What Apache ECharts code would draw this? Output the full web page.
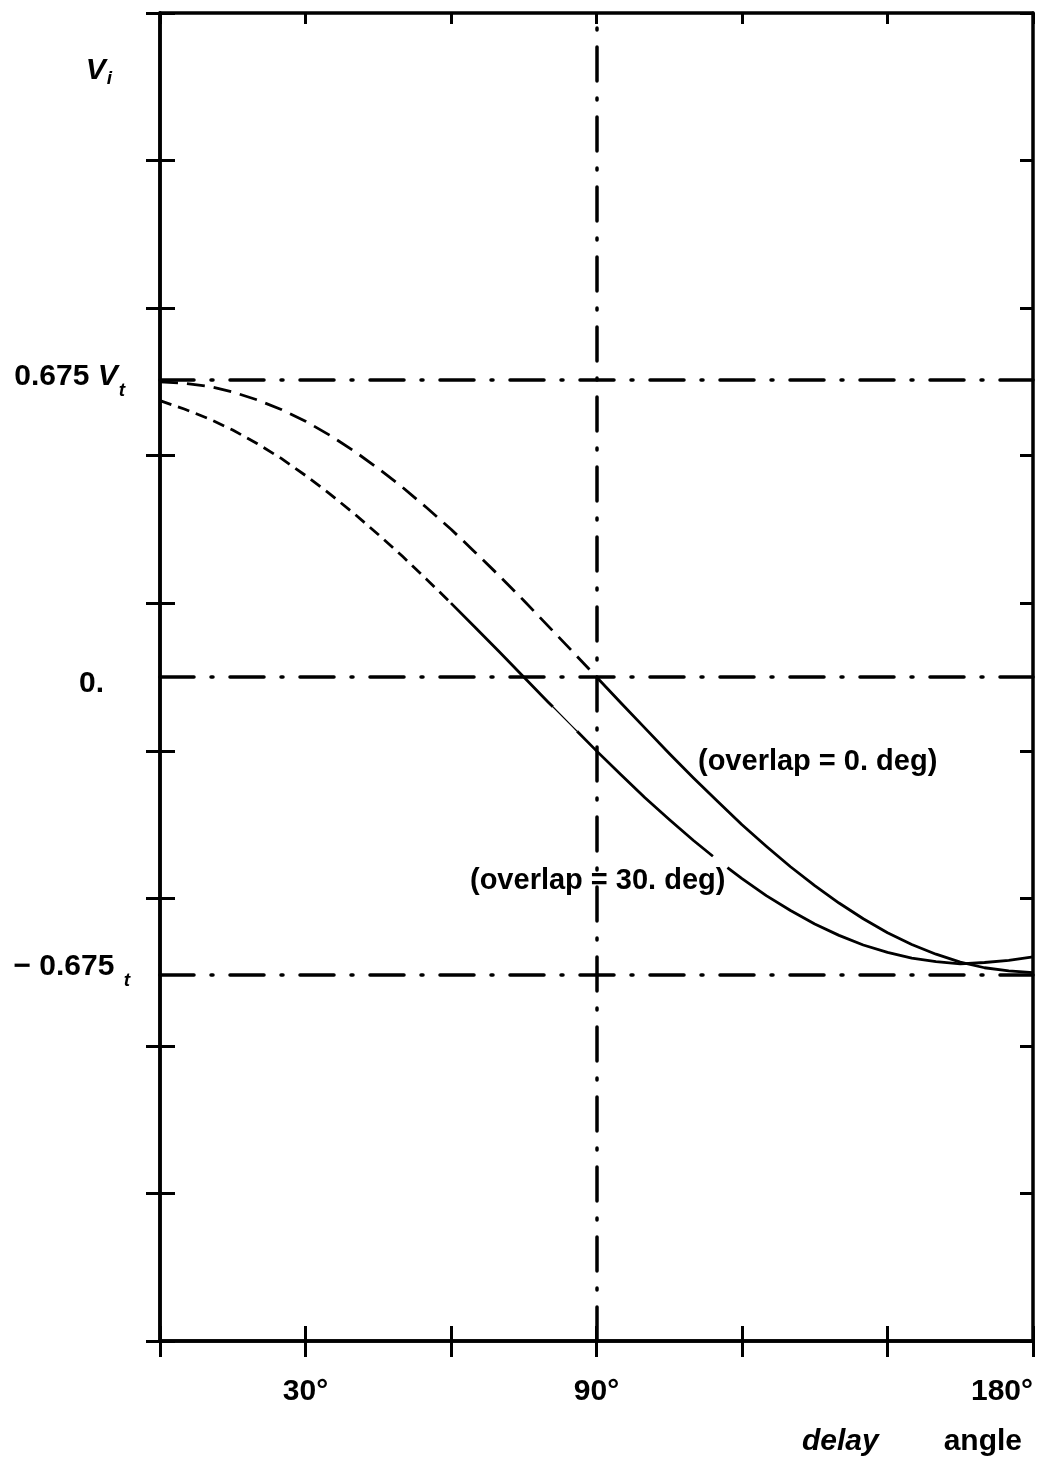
<!DOCTYPE html>
<html>
<head>
<meta charset="utf-8">
<script src="https://cdn.jsdelivr.net/npm/echarts@6/dist/echarts.min.js"></script>
<style>
html,body{margin:0;padding:0;background:#fff;}
#c{width:1038px;height:1464px;}
</style>
</head>
<body>
<div id="c"></div>
<script>
// ---- data ----
const angles0 = [0,5,10,15,20,25,30,35,40,45,50,55,60,65,70,75,80,85,90,95,100,105,110,115,120,125,130,135,140,145,150,155,160,165,170,175,180];
const overlap0 = [0.675,0.672,0.665,0.652,0.634,0.612,0.585,0.553,0.517,0.477,0.434,0.387,0.338,0.285,0.231,0.175,0.117,0.059,0.0,-0.059,-0.117,-0.175,-0.231,-0.285,-0.338,-0.387,-0.434,-0.477,-0.517,-0.553,-0.585,-0.612,-0.634,-0.652,-0.665,-0.672,-0.676];

const angles30 = [0,5,10,15,20,25,30,35,40,45,50,55,60,65,70,75,80,81,85,86,90,95,100,105,110,114,115,117,120,125,130,135,140,145,150,155,160,165,170,175,180];
const overlap30 = [0.632,0.613,0.591,0.565,0.534,0.500,0.461,0.419,0.374,0.326,0.276,0.223,0.169,0.113,0.057,0.0,-0.057,-0.068,-0.113,-0.124,-0.169,-0.223,-0.276,-0.326,-0.374,-0.410,-0.419,-0.436,-0.461,-0.500,-0.534,-0.565,-0.591,-0.613,-0.630,-0.643,-0.651,-0.656,-0.653,-0.648,-0.640];

const xLabelValues = [30, 90, 180];
const yLabelValues = [0.675, 0, -0.675];
const yTickValues = [-1.51875,-1.18125,-0.84375,-0.50625,-0.16875,0.16875,0.50625,0.84375,1.18125,1.51875];
const refLevels = [0.675, 0, -0.675];
const refAngles = [90];

const FONT = "'Liberation Sans', Arial, Helvetica, sans-serif";
const BLACK = '#000';

function seg(angles, values, a0, a1) {
  const d = [];
  angles.forEach((a, i) => { if (a >= a0 && a <= a1) d.push([a, values[i]]); });
  return d;
}

function lineSeries(data, style) {
  return {
    type: 'line',
    data: data,
    xAxisIndex: 0,
    yAxisIndex: 0,
    smooth: false,
    showSymbol: false,
    symbol: 'none',
    silent: true,
    lineStyle: Object.assign({ color: BLACK, width: 2.8, type: 'solid', join: 'round' }, style),
    emphasis: { disabled: true }
  };
}

const axisLineStyle = { color: BLACK, width: 3.5 };
const tickStyle = { color: BLACK, width: 3 };

const series = [
  lineSeries(seg(angles0, overlap0, 0, 90), { type: [18, 9] }),
  lineSeries(seg(angles0, overlap0, 90, 180), {}),
  lineSeries(seg(angles30, overlap30, 0, 60), { type: [12, 7] }),
  lineSeries(seg(angles30, overlap30, 60, 81), {}),
  lineSeries(seg(angles30, overlap30, 81, 86), { width: 1.2 }),
  lineSeries(seg(angles30, overlap30, 86, 114), {}),
  lineSeries(seg(angles30, overlap30, 117, 180), {})
];

series[0].markLine = {
  silent: true,
  symbol: ['none', 'none'],
  label: { show: false },
  emphasis: { disabled: true },
  animation: false,
  lineStyle: { color: BLACK, width: 3.5, type: [34, 17, 2, 17], cap: 'round' },
  data: refLevels.map(v => ({ yAxis: v })).concat(refAngles.map(a => ({ xAxis: a })))
};

const chart = echarts.init(document.getElementById('c'), null, { renderer: 'canvas' });

chart.setOption({
  backgroundColor: '#fff',
  animation: false,
  grid: { left: 160, right: 5, top: 13, bottom: 123, outerBoundsMode: 'none' },
  xAxis: [
    {
      type: 'value', position: 'bottom', min: 0, max: 180, interval: 30,
      axisLine: { show: true, onZero: false, lineStyle: axisLineStyle },
      axisTick: { show: true, inside: false, length: 16, lineStyle: tickStyle },
      splitLine: { show: false },
      axisLabel: {
        show: true, customValues: xLabelValues, margin: 36,
        formatter: v => v + '°',
        color: BLACK, fontSize: 30, fontWeight: 'bold', fontFamily: FONT,
        alignMaxLabel: 'right'
      },
      name: '{i|delay}{n|angle}',
      nameLocation: 'end',
      nameGap: -11,
      nameTextStyle: {
        align: 'right', verticalAlign: 'top', padding: [86, 0, 0, 0],
        rich: {
          i: { fontSize: 30, fontFamily: FONT, fontWeight: 'bold', fontStyle: 'italic', color: BLACK, padding: [0, 65, 0, 0] },
          n: { fontSize: 30, fontFamily: FONT, fontWeight: 'bold', color: BLACK }
        }
      }
    },
    {
      type: 'value', position: 'bottom', min: 0, max: 180, interval: 30,
      axisLine: { show: true, onZero: false, lineStyle: axisLineStyle },
      axisTick: { show: true, inside: true, length: 15, lineStyle: tickStyle },
      splitLine: { show: false },
      axisLabel: { show: false }
    },
    {
      type: 'value', position: 'top', min: 0, max: 180, interval: 30,
      axisLine: { show: true, onZero: false, lineStyle: axisLineStyle },
      axisTick: { show: true, inside: true, length: 11, lineStyle: tickStyle },
      splitLine: { show: false },
      axisLabel: { show: false }
    }
  ],
  yAxis: [
    {
      type: 'value', position: 'left', min: -1.51875, max: 1.51875,
      axisLine: { show: true, onZero: false, lineStyle: axisLineStyle },
      axisTick: { show: true, inside: false, length: 14, customValues: yTickValues, lineStyle: tickStyle },
      splitLine: { show: false },
      axisLabel: {
        show: true, customValues: yLabelValues, margin: 30,
        color: BLACK, fontSize: 30, fontWeight: 'bold', fontFamily: FONT,
        formatter: function (v) {
          if (Math.abs(v) < 1e-9) return '{z|0.}';
          if (v > 0) return '{a|0.675 }{v|V}{s1|t}';
          return '{a|\u2212 0.675 }{s|t}';
        },
        rich: {
          a: { fontSize: 30, fontFamily: FONT, fontWeight: 'bold', color: BLACK, padding: [0, 0, 11, 0] },
          v: { fontSize: 30, fontFamily: FONT, fontWeight: 'bold', fontStyle: 'italic', color: BLACK, padding: [0, 0, 11, 0] },
          s: { fontSize: 19, fontFamily: FONT, fontWeight: 'bold', fontStyle: 'italic', color: BLACK, padding: [17, 0, 0, 1] },
          s1: { fontSize: 19, fontFamily: FONT, fontWeight: 'bold', fontStyle: 'italic', color: BLACK, padding: [17, 5, 0, 1] },
          z: { fontSize: 30, fontFamily: FONT, fontWeight: 'bold', color: BLACK, padding: [14, 26, 0, 0] }
        }
      },
      name: '{v|V}{s|i}',
      nameLocation: 'end',
      nameGap: -58,
      nameTextStyle: {
        align: 'right', verticalAlign: 'middle', padding: [0, 48, 0, 0],
        rich: {
          v: { fontSize: 30, fontFamily: FONT, fontWeight: 'bold', fontStyle: 'italic', color: BLACK },
          s: { fontSize: 19, fontFamily: FONT, fontWeight: 'bold', fontStyle: 'italic', color: BLACK, padding: [16, 0, 0, 1] }
        }
      }
    },
    {
      type: 'value', position: 'left', min: -1.51875, max: 1.51875,
      axisLine: { show: true, onZero: false, lineStyle: axisLineStyle },
      axisTick: { show: true, inside: true, length: 15, customValues: yTickValues, lineStyle: tickStyle },
      splitLine: { show: false },
      axisLabel: { show: false }
    },
    {
      type: 'value', position: 'right', min: -1.51875, max: 1.51875,
      axisLine: { show: true, onZero: false, lineStyle: axisLineStyle },
      axisTick: { show: true, inside: true, length: 13, customValues: yTickValues, lineStyle: tickStyle },
      splitLine: { show: false },
      axisLabel: { show: false }
    }
  ],
  graphic: [
    {
      type: 'text', x: 698, y: 762, silent: true,
      style: { text: '(overlap = 0. deg)', fontSize: 29, fontWeight: 'bold', fontFamily: FONT, fill: BLACK, align: 'left', verticalAlign: 'middle' }
    },
    {
      type: 'text', x: 470, y: 881, silent: true,
      style: { text: '(overlap = 30. deg)', fontSize: 29, fontWeight: 'bold', fontFamily: FONT, fill: BLACK, align: 'left', verticalAlign: 'middle' }
    }
  ],
  series: series
});
</script>
</body>
</html>
